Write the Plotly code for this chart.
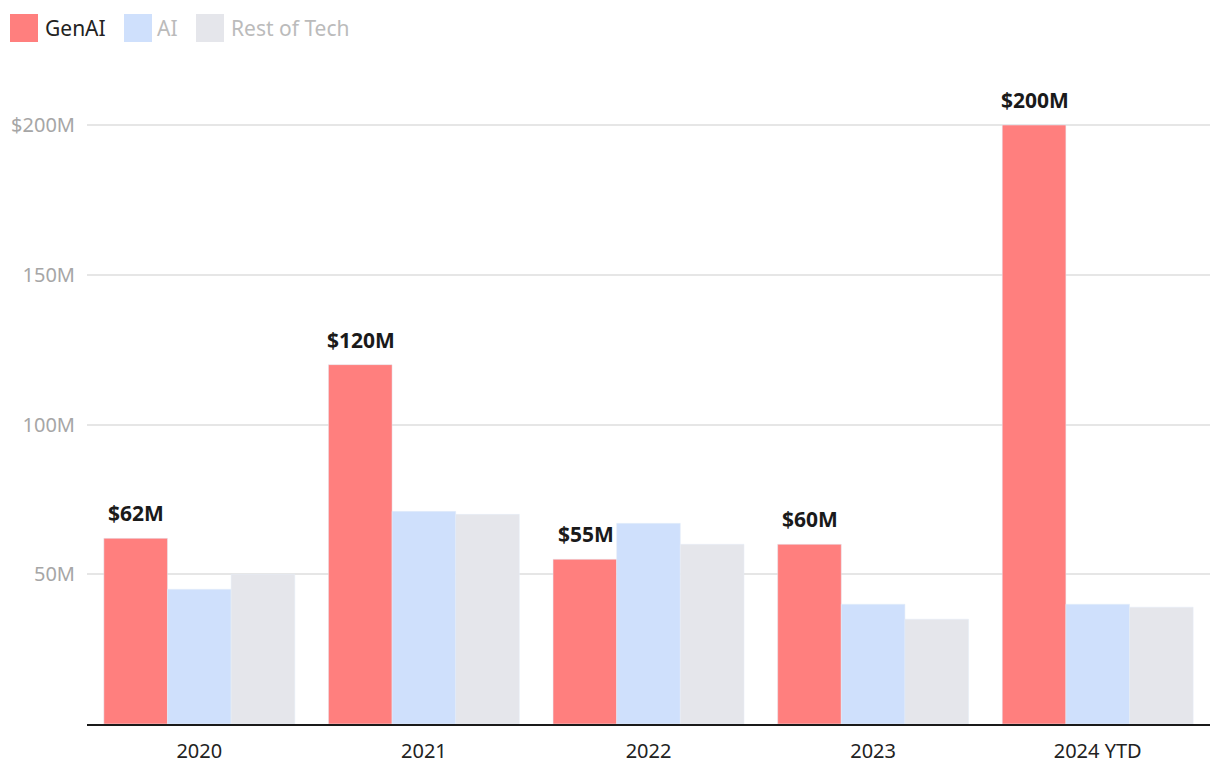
import plotly.graph_objects as go

categories = ["2020", "2021", "2022", "2023", "2024 YTD"]
genai = [62, 120, 55, 60, 200]
ai = [45, 71, 67, 40, 40]
rest = [50, 70, 60, 35, 39]
series_names = ["GenAI", "AI", "Rest of Tech"]
colors = ["#FF7F7E", "#CFE0FC", "#E5E6EB"]
ytick_vals = [50, 100, 150, 200]
ytick_text = ["50M", "100M", "150M", "$200M"]

FONT = "Noto Sans"
W, H = 1220, 782
OFF = 8  # page offset of the figure
pl, pr, pt, pb = 79, 18, 88, 66

fig = go.Figure()
fig.add_trace(go.Bar(x=categories, y=genai, name=series_names[0], marker_color=colors[0]))
fig.add_trace(go.Bar(x=categories, y=ai, name=series_names[1], marker_color=colors[1]))
fig.add_trace(go.Bar(x=categories, y=rest, name=series_names[2], marker_color=colors[2]))

# value labels over GenAI bars (first bar of each group); x given as category index
for i, v in enumerate(genai):
    fig.add_annotation(x=i, y=v, xref="x", yref="y", text=f"<b>${v}M</b>",
                       showarrow=False, yanchor="bottom", yshift=9, xshift=-63,
                       font=dict(size=21, color="#1a1a1a", family=FONT))

fig.update_layout(
    width=W, height=H,
    margin=dict(l=pl, r=pr, t=pt, b=pb, autoexpand=False),
    plot_bgcolor="white", paper_bgcolor="white",
    barmode="group", bargap=0.15, bargroupgap=0,
    showlegend=False,
    font=dict(family=FONT),
    xaxis=dict(type="category", range=[-0.5, len(categories) - 0.5], automargin=False,
               showline=True, linecolor="#1a1a1a", linewidth=2, ticks="",
               ticklabelstandoff=8,
               tickfont=dict(size=20, color="#222222", family=FONT), showgrid=False),
    yaxis=dict(range=[0, 209.7], tickvals=ytick_vals, ticktext=ytick_text, automargin=False,
               showgrid=True, gridcolor="#e6e6e6", gridwidth=1.5, zeroline=False,
               tickfont=dict(size=20, color="#a6a6a6", family=FONT), ticklabelstandoff=11),
)

pw, ph = W - pl - pr, H - pt - pb
def px(x):
    return (x - OFF - pl) / pw
def py(y):
    return (H - pb - (y - OFF)) / ph

label_colors = ["#222222", "#bbbbbb", "#bbbbbb"]
sw_x = [10, 124, 196]
txt_x = [43, 155, 229]
for i in range(3):
    fig.add_shape(type="rect", xref="paper", yref="paper",
                  x0=px(sw_x[i]), x1=px(sw_x[i] + 28), y0=py(42), y1=py(14),
                  line_width=0, fillcolor=colors[i])
    fig.add_annotation(xref="paper", yref="paper", x=px(txt_x[i]), y=py(28),
                       xanchor="left", yanchor="middle", showarrow=False,
                       text=series_names[i], font=dict(size=21, color=label_colors[i], family=FONT))

fig.write_html("out.html")
